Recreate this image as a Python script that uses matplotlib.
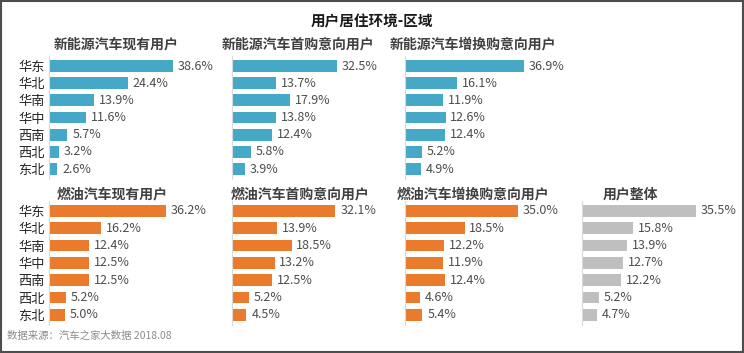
import matplotlib.pyplot as plt
from matplotlib.patches import Rectangle

plt.rcParams['font.family'] = ['Noto Sans CJK SC', 'DejaVu Sans']

# === 数据 ===
regions = ["华东", "华北", "华南", "华中", "西南", "西北", "东北"]

nev_current = [38.6, 24.4, 13.9, 11.6, 5.7, 3.2, 2.6]
nev_first = [32.5, 13.7, 17.9, 13.8, 12.4, 5.8, 3.9]
nev_replace = [36.9, 16.1, 11.9, 12.6, 12.4, 5.2, 4.9]
fuel_current = [36.2, 16.2, 12.4, 12.5, 12.5, 5.2, 5.0]
fuel_first = [32.1, 13.9, 18.5, 13.2, 12.5, 5.2, 4.5]
fuel_replace = [35.0, 18.5, 12.2, 11.9, 12.4, 4.6, 5.4]
overall = [35.5, 15.8, 13.9, 12.7, 12.2, 5.2, 4.7]

BLUE = "#45A8C6"
ORANGE = "#EA7A2C"
GRAY = "#BFBFBF"

W, H = 744, 353
fig = plt.figure(figsize=(W / 100, H / 100), dpi=100)

# 每个面板: (数据, 颜色, 标题, 左边界px, 行, 标题中心px)
panels = [
    (nev_current, BLUE, "新能源汽车现有用户", 49, 0, 116),
    (nev_first, BLUE, "新能源汽车首购意向用户", 232, 0, 298),
    (nev_replace, BLUE, "新能源汽车增换购意向用户", 405, 0, 473),
    (fuel_current, ORANGE, "燃油汽车现有用户", 49, 1, 112),
    (fuel_first, ORANGE, "燃油汽车首购意向用户", 232, 1, 300),
    (fuel_replace, ORANGE, "燃油汽车增换购意向用户", 405, 1, 473),
    (overall, GRAY, "用户整体", 582, 1, 630),
]

px_per_pct = 3.22
ax_w = 160
rows = {0: (55.7, 123.6, 45), 1: (200.6, 124.6, 194)}

for vals, color, title, left, row, tcx in panels:
    top, height, ty = rows[row]
    ax = fig.add_axes([left / W, 1 - (top + height) / H, ax_w / W, height / H])
    y = range(len(regions))
    ax.barh(y, vals, height=0.68, color=color)
    ax.set_xlim(0, ax_w / px_per_pct)
    ax.set_ylim(6.6, -0.6)
    for i, v in enumerate(vals):
        ax.text(v + 1.5, i, f"{v:.1f}%", va="center", ha="left",
                fontsize=9, color="#4D4D4D")
    for s in ["top", "right", "bottom"]:
        ax.spines[s].set_visible(False)
    ax.spines["left"].set_color("#D9D9D9")
    ax.spines["left"].set_linewidth(0.8)
    ax.set_xticks([])
    if left == 49:
        ax.set_yticks(list(y))
        ax.set_yticklabels(regions, fontsize=9.5, color="#262626")
        ax.tick_params(axis="y", length=0, pad=3)
    else:
        ax.set_yticks([])
    fig.text(tcx / W, 1 - ty / H, title, ha="center", va="center",
             fontsize=10, fontweight="bold", color="#404040")

fig.text(372 / W, 1 - 21 / H, "用户居住环境-区域", ha="center", va="center",
         fontsize=10.5, fontweight="bold", color="#1a1a1a")
fig.text(7 / W, 1 - 336 / H, "数据来源：汽车之家大数据 2018.08", ha="left",
         va="center", fontsize=7.5, color="#8C8C8C")

fig.patches.append(Rectangle((0.001, 0.002), 0.997, 0.996, transform=fig.transFigure,
                             fill=False, edgecolor="#4D4D4D", linewidth=1.5))

fig.savefig("out.png", dpi=100)
